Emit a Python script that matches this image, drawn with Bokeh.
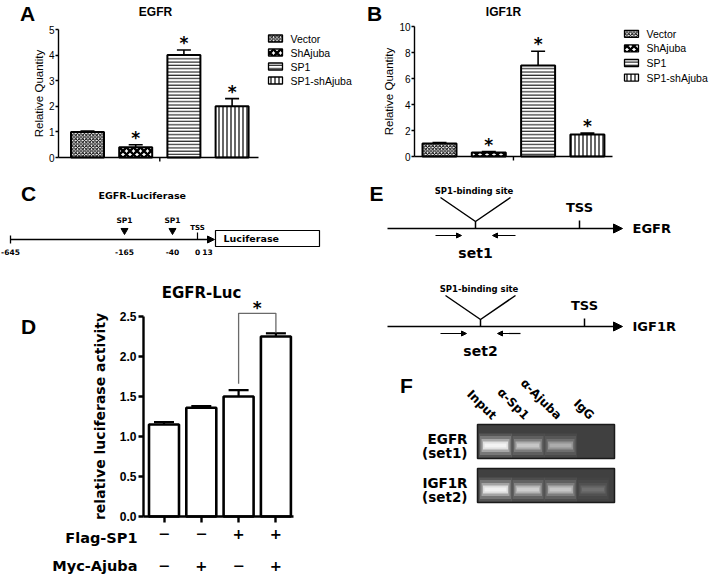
import math
from bokeh.plotting import figure
from bokeh.models import (Range1d, FixedTicker, Arrow, NormalHead, NumeralTickFormatter,
                          LinearAxis)
from bokeh.core.properties import value
from bokeh.embed import file_html
from bokeh.resources import INLINE

ARIAL = "Liberation Sans"
VERD = "DejaVu Sans"

# ---------------- data ----------------
groups = ["Vector", "ShAjuba", "SP1", "SP1-shAjuba"]
egfr_vals = [1.0, 0.4, 4.0, 2.0]
egfr_err = [0.03, 0.1, 0.2, 0.3]
igf1r_vals = [1.0, 0.3, 7.0, 1.7]
igf1r_err = [0.08, 0.08, 1.1, 0.1]
sig = ["", "*", "*", "*"]
a_ticks = [0, 1, 2, 3, 4, 5]
b_ticks = [0, 2, 4, 6, 8, 10]

luc_vals = [1.15, 1.36, 1.50, 2.25]
luc_err = [0.03, 0.02, 0.08, 0.04]
flag_sp1 = ["\u2212", "\u2212", "+", "+"]
myc_ajuba = ["\u2212", "+", "\u2212", "+"]
d_ticks = [0, 0.5, 1.0, 1.5, 2.0, 2.5]
d_pair = (3, 4)

promoter_pos = ["-645", "-165", "-40", "0", "13"]
sp1_idx = [1, 2]
tss_idx = 3

e_genes = ["EGFR", "IGF1R"]
e_sets = ["set1", "set2"]

chip_lanes = ["Input", "\u03b1-Sp1", "\u03b1-Ajuba", "IgG"]
chip_rows = [["EGFR", "(set1)"], ["IGF1R", "(set2)"]]
egfr_band = [1.0, 0.55, 0.4, 0.0]
igf1r_band = [0.95, 0.6, 0.55, 0.15]

HATCH = [
    dict(hatch_pattern="diagonal_cross", hatch_scale=3.5, hatch_weight=1.0),
    dict(hatch_pattern="diagonal_cross", hatch_scale=7, hatch_weight=2.4),
    dict(hatch_pattern="horizontal_line", hatch_scale=3.3, hatch_weight=1.0),
    dict(hatch_pattern="vertical_line", hatch_scale=4, hatch_weight=1.2),
]

W, H = 709, 574
p = figure(width=W, height=H, x_range=Range1d(0, W), y_range=Range1d(H, 0),
           x_axis_location=None, y_axis_location=None, min_border=0,
           output_backend="svg", toolbar_location=None)
p.outline_line_color = None
p.xgrid.visible = False
p.ygrid.visible = False
p.grid.grid_line_color = None


# ---------------- helpers ----------------
def txt(xs, ys, texts, font, size, style="bold", align="center", baseline="middle",
        color="black", angle=0.0, y_offset=0, **kw):
    p.text(x=xs, y=ys, text=texts, text_font=value(font), text_font_size=value(size),
           text_font_style=style, text_align=align, text_baseline=baseline,
           text_color=color, angle=angle, y_offset=y_offset, **kw)


def add_ranges(key, c1, pitch, zero, unit):
    xr, yr = key + "_x", key + "_y"
    p.extra_x_ranges[xr] = Range1d(1 + (0 - c1) / pitch, 1 + (W - c1) / pitch)
    p.extra_y_ranges[yr] = Range1d((zero - H) / unit, zero / unit)
    return xr, yr


def axis(xr, yr, loc, ticks, bounds, font, size, style, tick_out, lw, **kw):
    return LinearAxis(x_range_name=xr, y_range_name=yr, fixed_location=loc,
                      ticker=FixedTicker(ticks=ticks), bounds=bounds,
                      axis_line_width=lw, axis_line_color="black",
                      major_tick_line_width=lw, major_tick_line_color="black",
                      major_tick_in=0, major_tick_out=tick_out,
                      minor_tick_line_color=None,
                      major_label_text_font=font, major_label_text_font_size=size,
                      major_label_text_font_style=style, major_label_text_color="black",
                      axis_label_text_color="black", **kw)


def bar_chart(key, axis_px, zero_py, unit_px, c1_px, pitch_px, barw_px, axis_end_px,
              vals, errs, ticks, leg_x, leg_y0, leg_pitch):
    xr, yr = add_ranges(key, c1_px, pitch_px, zero_py, unit_px)
    xv = lambda px: 1 + (px - c1_px) / pitch_px
    ya = axis(xr, yr, xv(axis_px), ticks, (0, ticks[-1]), ARIAL, "10px", "normal", 3, 1.4,
              major_label_standoff=1, axis_label="Relative Quantity",
              axis_label_text_font=ARIAL, axis_label_text_font_size="11.5px",
              axis_label_text_font_style="normal", axis_label_standoff=1)
    p.add_layout(ya, "left")
    xa = axis(xr, yr, 0, [], (xv(axis_px), xv(axis_end_px)), ARIAL, "10px", "normal", 0, 1.4)
    p.add_layout(xa, "below")
    xs = [i + 1 for i in range(len(vals))]
    mid = (xs[0] + xs[-1]) / 2
    p.segment(x0=[mid], y0=[0], x1=[mid], y1=[-4 / unit_px], line_color="black",
              line_width=1.4, x_range_name=xr, y_range_name=yr)
    bw = barw_px / pitch_px
    for i, g in enumerate(groups):
        p.vbar(x=[xs[i]], top=[vals[i]], width=bw, bottom=0, fill_color="white",
               line_color="black", line_width=2, hatch_color="black",
               x_range_name=xr, y_range_name=yr, **HATCH[i])
    tops = [v + e for v, e in zip(vals, errs)]
    cw = 7 / pitch_px
    p.segment(x0=xs, y0=vals, x1=xs, y1=tops, line_color="black", line_width=1.6,
              x_range_name=xr, y_range_name=yr)
    p.segment(x0=[x - cw for x in xs], y0=tops, x1=[x + cw for x in xs], y1=tops,
              line_color="black", line_width=1.6, x_range_name=xr, y_range_name=yr)
    sx = [x for x, s in zip(xs, sig) if s]
    sy = [t for t, s in zip(tops, sig) if s]
    st = [s for s in sig if s]
    txt(sx, sy, st, VERD, "17px", baseline="alphabetic", y_offset=-7,
        x_range_name=xr, y_range_name=yr)
    # legend (swatches drawn with the same hatch styles as the bars)
    ly = [leg_y0 + i * leg_pitch for i in range(len(groups))]
    for i in range(len(groups)):
        p.quad(left=[leg_x], right=[leg_x + 14], top=[ly[i] - 3.5], bottom=[ly[i] + 3.5],
               fill_color="white", line_color="black", line_width=1.3, hatch_color="black",
               **HATCH[i])
    txt([leg_x + 22] * len(groups), ly, groups, ARIAL, "10.5px", style="normal", align="left")


# ---------------- A & B ----------------
bar_chart("a", 58, 157, 25.6, 87, 48.2, 33, 258, egfr_vals, egfr_err, a_ticks, 268, 38, 14.0)
bar_chart("b", 414, 156, 13.0, 439, 49.3, 34, 612, igf1r_vals, igf1r_err, b_ticks, 624, 33.3, 14.6)
txt([27, 374], [13, 13], ["A", "B"], ARIAL, "21px")
txt([155, 503], [11, 11], ["EGFR", "IGF1R"], ARIAL, "12px")

# ---------------- C ----------------
mark_x = [10, 124, 172, 197, 207]
txt([28], [193], ["C"], ARIAL, "21px")
txt([98], [195], ["EGFR-Luciferase"], VERD, "9.5px", align="left")
p.add_layout(Arrow(end=NormalHead(size=7, fill_color="black", line_color="black", line_width=1),
                   x_start=10, y_start=239, x_end=214, y_end=239, line_width=1.3,
                   line_color="black"))
p.segment(x0=[mark_x[0]], y0=[235], x1=[mark_x[0]], y1=[243], line_color="black", line_width=1.3)
spx = [mark_x[i] for i in sp1_idx]
p.scatter(x=spx, y=[230] * len(spx), marker="inverted_triangle", size=7, color="black")
txt(spx, [220] * len(spx), ["SP1"] * len(spx), VERD, "7.5px")
p.segment(x0=[mark_x[tss_idx]], y0=[232], x1=[mark_x[tss_idx]], y1=[239], line_color="black",
          line_width=1.2)
txt([mark_x[tss_idx]], [227], ["TSS"], VERD, "7px")
txt(mark_x, [251] * len(mark_x), promoter_pos, VERD, "7.5px")
p.quad(left=[215], right=[319], top=[230], bottom=[246], fill_color="white",
       line_color="black", line_width=1.2)
txt([223], [238], ["Luciferase"], VERD, "9.5px", align="left")

# ---------------- D ----------------
D_AX, D_ZERO, D_UNIT, D_C1, D_PITCH = 143, 516, 80.0, 163.5, 37.3
dxr, dyr = add_ranges("d", D_C1, D_PITCH, D_ZERO, D_UNIT)
dxv = lambda px: 1 + (px - D_C1) / D_PITCH
d_x = [i + 1 for i in range(len(luc_vals))]
dya = axis(dxr, dyr, dxv(D_AX), d_ticks, (0, d_ticks[-1]), ARIAL, "12px", "bold", 5, 2.4,
           major_label_standoff=2, formatter=NumeralTickFormatter(format="0.0"),
           axis_label="relative luciferase activity", axis_label_text_font=VERD,
           axis_label_text_font_size="14px", axis_label_text_font_style="bold",
           axis_label_standoff=9)
p.add_layout(dya, "left")
dxa = axis(dxr, dyr, 0, d_x, (dxv(D_AX), dxv(293)), VERD, "14.5px", "bold", 6, 2.4,
           major_label_standoff=6,
           major_label_overrides={x: s for x, s in zip(d_x, flag_sp1)})
p.add_layout(dxa, "below")
dxb = axis(dxr, dyr, 0, d_x, (dxv(D_AX), dxv(293)), VERD, "14.5px", "bold", 0, 2.4,
           major_label_standoff=44,
           major_label_overrides={x: s for x, s in zip(d_x, myc_ajuba)})
dxb.axis_line_color = None
dxb.major_tick_line_color = None
p.add_layout(dxb, "below")
p.vbar(x=d_x, top=luc_vals, width=30 / D_PITCH, bottom=0, fill_color="white",
       line_color="black", line_width=2.6, x_range_name=dxr, y_range_name=dyr)
d_tops = [v + e for v, e in zip(luc_vals, luc_err)]
d_cw = 10 / D_PITCH
p.segment(x0=d_x, y0=luc_vals, x1=d_x, y1=d_tops, line_color="black", line_width=2.2,
          x_range_name=dxr, y_range_name=dyr)
p.segment(x0=[x - d_cw for x in d_x], y0=d_tops, x1=[x + d_cw for x in d_x], y1=d_tops,
          line_color="black", line_width=2.2, x_range_name=dxr, y_range_name=dyr)
i0, i1 = d_pair[0] - 1, d_pair[1] - 1
br_y = max(d_tops[i0], d_tops[i1]) + 0.25
p.line(x=[d_x[i0], d_x[i0], d_x[i1], d_x[i1]],
       y=[d_tops[i0] + 0.08, br_y, br_y, d_tops[i1] + 0.01], line_color="#6a6a6a",
       line_width=1.3, x_range_name=dxr, y_range_name=dyr)
txt([(d_x[i0] + d_x[i1]) / 2], [br_y], ["*"], VERD, "17px", baseline="alphabetic",
    y_offset=-5, x_range_name=dxr, y_range_name=dyr)
txt([201], [292], ["EGFR-Luc"], VERD, "15px")
txt([28], [326], ["D"], ARIAL, "21px")
txt([137, 137], [537, 565], ["Flag-SP1", "Myc-Ajuba"], VERD, "14.5px", align="right")

# ---------------- E ----------------
txt([376], [193], ["E"], ARIAL, "21px")
row_y = [228, 326]
v_x = [475, 480]
tss_x = [579, 584]
for k in range(len(e_genes)):
    y = row_y[k]
    vx = v_x[k]
    tx = tss_x[k]
    p.add_layout(Arrow(end=NormalHead(size=9, fill_color="black", line_color="black",
                                      line_width=1),
                       x_start=387, y_start=y, x_end=622, y_end=y, line_width=1.6,
                       line_color="black"))
    txt([632], [y], [e_genes[k]], VERD, "13px", align="left")
    p.line(x=[vx - 35, vx, vx + 35], y=[y - 31, y - 7, y - 31], line_color="black",
           line_width=1.5)
    p.segment(x0=[vx], y0=[y - 7], x1=[vx], y1=[y], line_color="black", line_width=1.5)
    txt([vx], [y - 38], ["SP1-binding  site"], VERD, "8.5px")
    p.segment(x0=[tx], y0=[y - 8], x1=[tx], y1=[y], line_color="black", line_width=1.5)
    txt([tx], [y - 21], ["TSS"], VERD, "13px")
    for xa, xb in ((vx - 40, vx - 14), (vx + 40, vx + 17)):
        p.add_layout(Arrow(end=NormalHead(size=5, fill_color="black", line_color="black",
                                          line_width=1),
                           x_start=xa, y_start=y + 7, x_end=xb, y_end=y + 7, line_width=1.2,
                           line_color="black"))
    txt([vx], [y + 24], [e_sets[k]], VERD, "14px")

# ---------------- F ----------------
txt([406], [385], ["F"], ARIAL, "21px")
GX0, GX1 = 477, 614
gel_tops = [424, 468]
gel_h = 34
lane_cx = [GX0 + 18 + i * 32.5 for i in range(len(chip_lanes))]
band_off = [21, 21]
bands = [egfr_band, igf1r_band]
for g in range(2):
    top = gel_tops[g]
    p.quad(left=[GX0], right=[GX1], top=[top], bottom=[top + gel_h], fill_color="#404040",
           line_color="#1a1a1a", line_width=1.5)
    by = top + band_off[g]
    for (w, h, a) in ((33, 24, 0.12), (31, 19, 0.2), (28, 13, 0.35), (25, 8, 0.65),
                      (22, 4, 0.6)):
        p.rect(x=lane_cx, y=[by] * len(lane_cx), width=w, height=h, fill_color="white",
               fill_alpha=[b * a for b in bands[g]], line_color=None)
    txt([467, 467], [top + 14, top + 28], chip_rows[g], VERD, "13.5px", align="right")
txt([x - 1 for x in lane_cx], [417] * len(lane_cx), chip_lanes, VERD, "12px", align="right",
    angle=-math.pi / 4)

open("out.html", "w").write(file_html(p, INLINE))
